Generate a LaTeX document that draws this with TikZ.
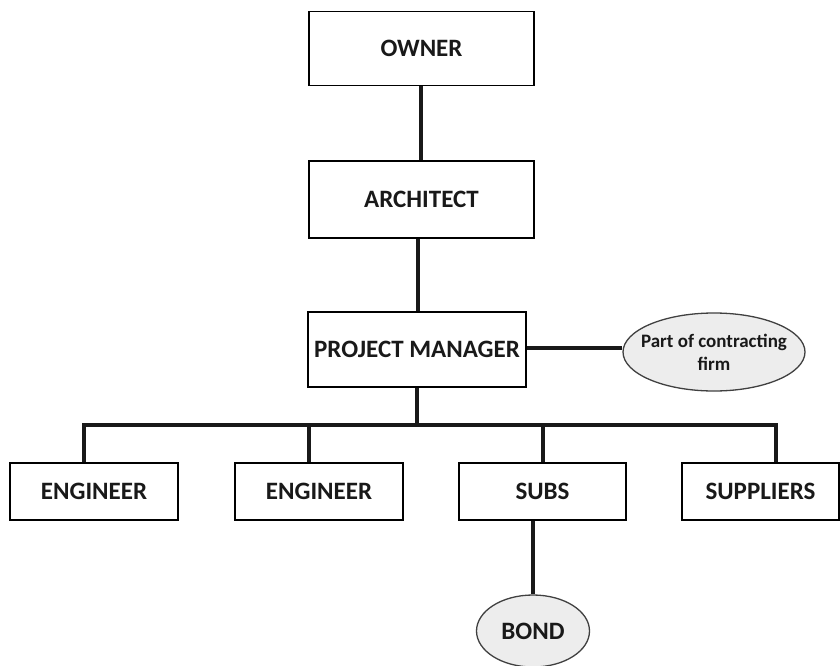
\documentclass[tikz,border=0pt]{standalone}
\usepackage{fontspec}
\setmainfont{Carlito}
\usetikzlibrary{shapes.geometric}
\begin{document}
\begin{tikzpicture}[x=1pt,y=-1pt,
  rolebox/.style={draw=black,line width=1.8pt,fill=white,inner sep=0pt,
    font=\fontsize{25}{28}\selectfont\bfseries,text=black!90},
  note/.style={ellipse,draw=black!75,line width=1.3pt,fill=black!7,inner xsep=-12pt,
    inner ysep=0pt,align=center,text=black!90},
  link/.style={line width=3.3pt,draw=black!90}]
\useasboundingbox (0,0) rectangle (840,666);
% boxes
\node[rolebox,minimum width=225,minimum height=74] (owner) at (421.5,48.5) {OWNER};
\node[rolebox,minimum width=225,minimum height=77] (arch) at (421.5,199.5) {ARCHITECT};
\node[rolebox,minimum width=218,minimum height=75] (pm) at (417,349.5) {PROJECT MANAGER};
\node[rolebox,minimum width=168,minimum height=57] (eng1) at (94,491.5) {ENGINEER};
\node[rolebox,minimum width=168,minimum height=57] (eng2) at (319,491.5) {ENGINEER};
\node[rolebox,minimum width=167,minimum height=57] (subs) at (542.5,491.5) {SUBS};
\node[rolebox,minimum width=157,minimum height=57] (supp) at (760.5,491.5) {SUPPLIERS};
% ellipses
\node[note,minimum width=182,minimum height=78,
  font=\fontsize{19}{23}\selectfont\bfseries] (firm) at (714,352) {Part of contracting\\firm};
\node[note,minimum width=113,minimum height=72,
  font=\fontsize{25}{28}\selectfont\bfseries] (bond) at (533,631) {BOND};
% connectors
\coordinate (bus) at (417,425);
\draw[link] (owner.south -| 421,0) -- (arch.north -| 421,0);
\draw[link] (arch.south -| 418,0) -- (pm.north -| 418,0);
\draw[link] (pm.east |- 0,348) -- (firm.west |- 0,348);
\draw[link] (pm.south) -- (bus);
\draw[link] (eng1.north -| 84,0) -- (84,425) -- (776,425) -- (supp.north -| 776,0);
\draw[link] (eng2.north -| 309,0) -- (309,425);
\draw[link] (subs.north -| 543,0) -- (543,425);
\draw[link] (subs.south -| 533,0) -- (bond.north);
\end{tikzpicture}
\end{document}
